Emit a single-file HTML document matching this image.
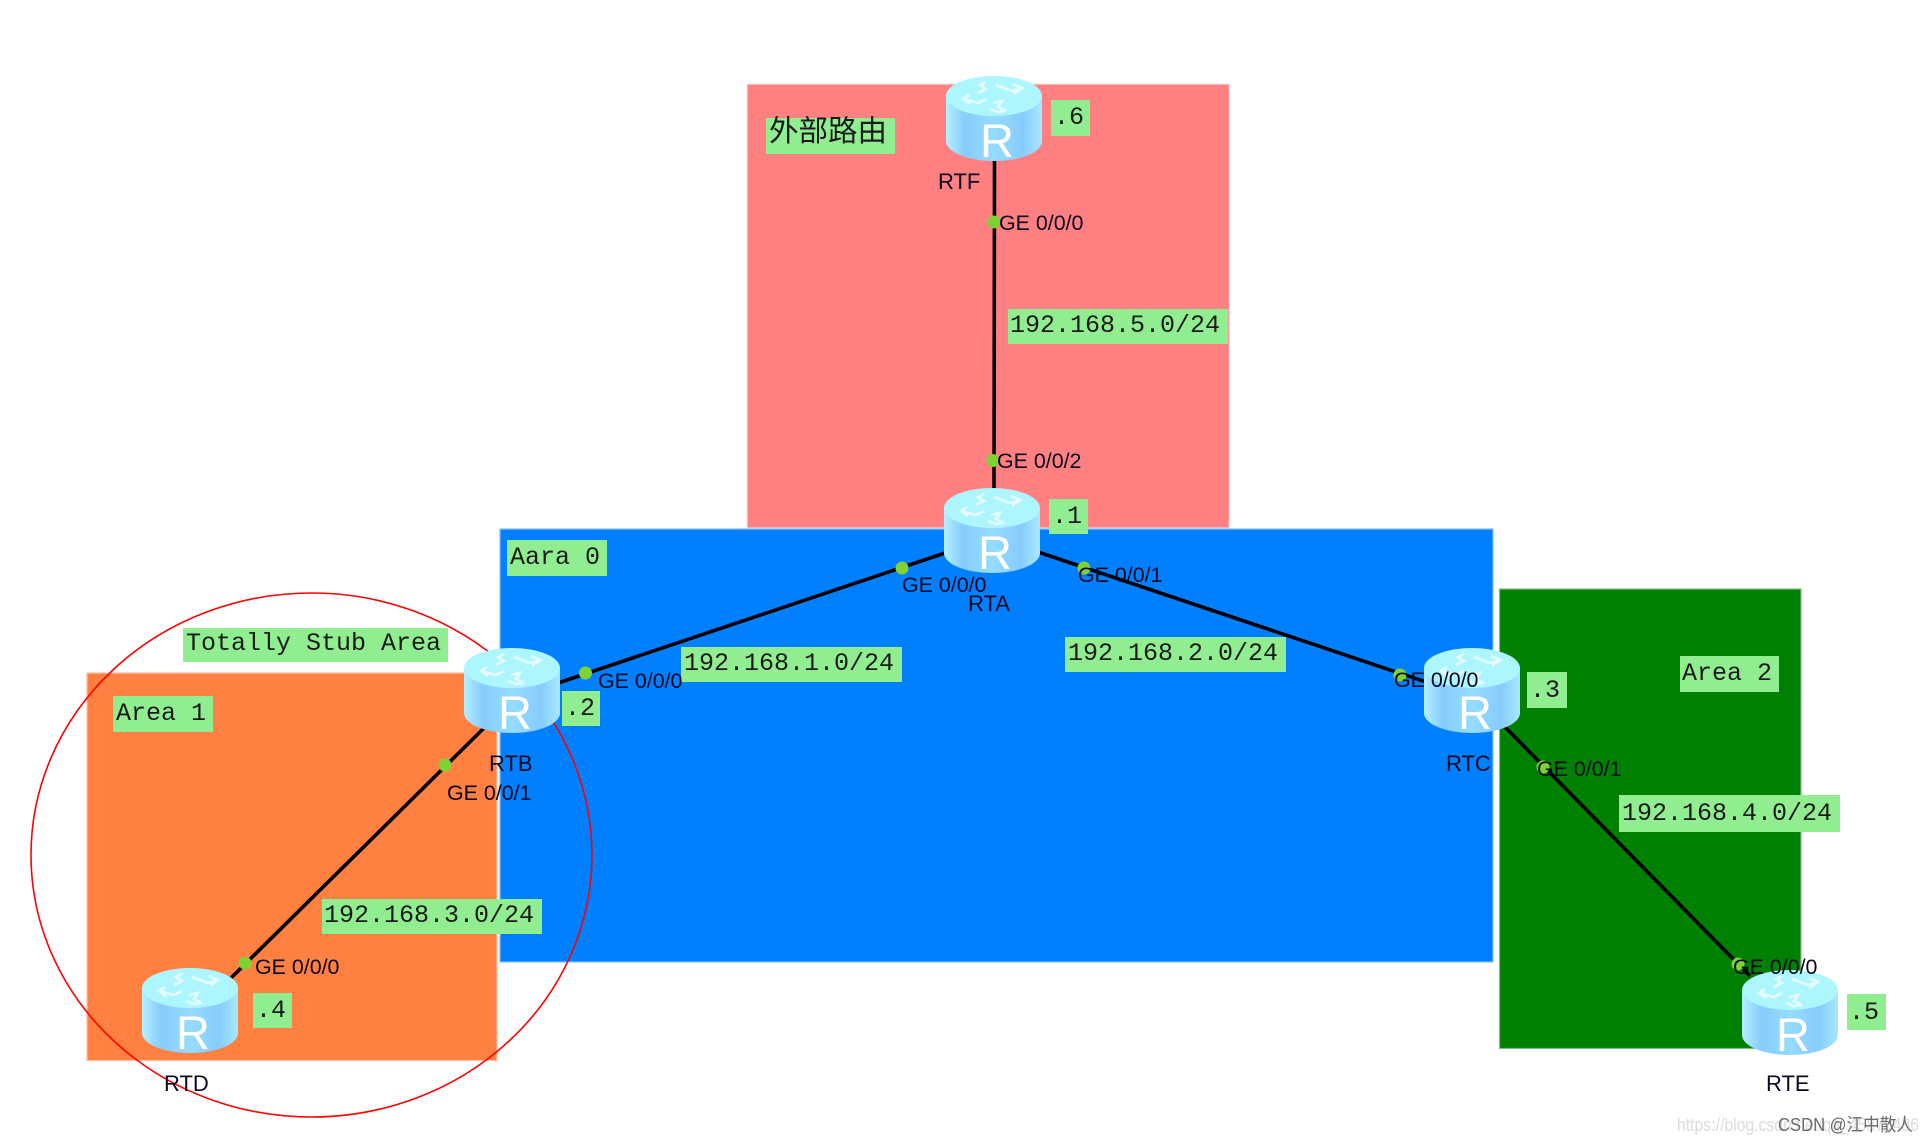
<!DOCTYPE html>
<html>
<head>
<meta charset="utf-8">
<style>
html,body{margin:0;padding:0;background:#fff;width:1929px;height:1143px;overflow:hidden}
svg{display:block}
.m{font:25px "Liberation Mono","Noto Sans CJK SC",monospace;fill:#1a1a1a}
.s{font:21.4px "Liberation Sans",sans-serif;fill:#080820}
.n{font:22px "Liberation Sans",sans-serif;fill:#080820}
.r{font:47px "Liberation Sans",sans-serif;fill:#fff;text-anchor:middle}
.b{fill:#90EE90}
.d{fill:#7FD234}
.l{stroke:#000;stroke-width:3.6;fill:none}
</style>
</head>
<body>
<svg width="1929" height="1143" viewBox="0 0 1929 1143" xmlns="http://www.w3.org/2000/svg">
<defs>
<linearGradient id="g" x1="0" x2="1" y1="0" y2="0">
<stop offset="0" stop-color="#b4f0ff"/><stop offset=".2" stop-color="#86ccfd"/><stop offset=".5" stop-color="#96dcff"/><stop offset=".8" stop-color="#86ccfd"/><stop offset="1" stop-color="#a8e8ff"/>
</linearGradient>
<symbol id="router" viewBox="0 0 96 85" width="96" height="85" overflow="visible">
<path d="M0 20V65A48 20 0 0 0 96 65V20Z" fill="url(#g)"/>
<ellipse cx="48" cy="20" rx="48" ry="20" fill="#aef6ff"/>
<g stroke="#e8fdff" stroke-width="2.6" fill="none" opacity=".95">
<path d="M40 6L34 9L40 13L32 17"/>
<path d="M17 23L32 27L40 23"/>
<path d="M23 19L17 23L24 28"/>
<path d="M50 9L66 15L76 12"/>
<path d="M67 8L76 12L68 18"/>
<path d="M47 27L56 25L52 31L60 35"/>
<path d="M44 33L52 36L60 35"/>
</g>
</symbol>
</defs>

<!-- zones -->
<rect x="747.5" y="84.5" width="481.5" height="443" fill="#ff8080" stroke="#ffb3b3" stroke-width="1.2"/>
<rect x="500" y="529" width="993" height="433" fill="#0080ff" stroke="#80bfff" stroke-width="1.2"/>
<rect x="87" y="673" width="410" height="387.5" fill="#ff8040" stroke="#ffbfa0" stroke-width="1.2"/>
<rect x="1499.5" y="589" width="301.5" height="459.5" fill="#008000" stroke="#80c080" stroke-width="1.2"/>

<!-- circle -->
<ellipse cx="311.5" cy="855" rx="280.5" ry="262" fill="none" stroke="#ff0000" stroke-width="1.6"/>

<!-- links -->
<line class="l" x1="994.5" y1="158" x2="994" y2="492"/>
<line class="l" x1="558" y1="683" x2="945" y2="553"/>
<line class="l" x1="1038" y1="552" x2="1426" y2="682"/>
<line class="l" x1="484" y1="728" x2="230" y2="979"/>
<line class="l" x1="1504" y1="726" x2="1750" y2="976"/>

<!-- port dots -->
<circle class="d" cx="994" cy="222" r="6.5"/>
<circle class="d" cx="993" cy="460.5" r="6.5"/>
<circle class="d" cx="902" cy="568" r="6.5"/>
<circle class="d" cx="1084" cy="568" r="6.5"/>
<circle class="d" cx="585.5" cy="673" r="6.5"/>
<circle class="d" cx="445" cy="765" r="6.5"/>
<circle class="d" cx="245" cy="963" r="6.5"/>
<circle class="d" cx="1400" cy="675" r="6.5"/>
<circle class="d" cx="1543" cy="767" r="6.5"/>
<circle class="d" cx="1738" cy="964" r="6.5"/>

<!-- routers -->
<use href="#router" x="946" y="76"/><text class="r" x="997" y="157">R</text>
<use href="#router" x="944" y="488"/><text class="r" x="995" y="569">R</text>
<use href="#router" x="464" y="648"/><text class="r" x="515" y="729">R</text>
<use href="#router" x="1424" y="648"/><text class="r" x="1475" y="729">R</text>
<use href="#router" x="142" y="968"/><text class="r" x="193" y="1049">R</text>
<use href="#router" x="1742" y="970"/><text class="r" x="1793" y="1051">R</text>

<!-- address labels -->
<rect class="b" x="766" y="118" width="129" height="36"/><text class="m" x="769" y="141" style="font-size:29.5px">外部路由</text>
<rect class="b" x="1051" y="100" width="39" height="36"/><text class="m" x="1054" y="124">.6</text>
<rect class="b" x="1008" y="309" width="220" height="35"/><text class="m" x="1010" y="332">192.168.5.0/24</text>
<rect class="b" x="1049" y="499" width="39" height="35"/><text class="m" x="1052" y="523">.1</text>
<rect class="b" x="507" y="540" width="100" height="36"/><text class="m" x="510" y="564">Aara 0</text>
<rect class="b" x="183" y="628" width="265" height="34"/><text class="m" x="186" y="650">Totally Stub Area</text>
<rect class="b" x="1065" y="637" width="221" height="35"/><text class="m" x="1068" y="660">192.168.2.0/24</text>
<rect class="b" x="681" y="647" width="221" height="35"/><text class="m" x="684" y="670">192.168.1.0/24</text>
<rect class="b" x="562" y="691" width="38" height="35"/><text class="m" x="565" y="715">.2</text>
<rect class="b" x="113" y="696" width="100" height="36"/><text class="m" x="116" y="720">Area 1</text>
<rect class="b" x="1680" y="656" width="99" height="36"/><text class="m" x="1682" y="680">Area 2</text>
<rect class="b" x="1527" y="672" width="40" height="36"/><text class="m" x="1530" y="697">.3</text>
<rect class="b" x="1619" y="795" width="221" height="37"/><text class="m" x="1622" y="820">192.168.4.0/24</text>
<rect class="b" x="322" y="899" width="220" height="35"/><text class="m" x="324" y="922">192.168.3.0/24</text>
<rect class="b" x="253" y="993" width="39" height="35"/><text class="m" x="256" y="1017">.4</text>
<rect class="b" x="1847" y="994" width="39" height="36"/><text class="m" x="1849" y="1019">.5</text>

<!-- port labels -->
<text class="s" x="999" y="230">GE 0/0/0</text>
<text class="s" x="997" y="468">GE 0/0/2</text>
<text class="s" x="902" y="592">GE 0/0/0</text>
<text class="s" x="1078" y="582">GE 0/0/1</text>
<text class="s" x="598" y="688">GE 0/0/0</text>
<text class="s" x="447" y="800">GE 0/0/1</text>
<text class="s" x="255" y="974">GE 0/0/0</text>
<text class="s" x="1394" y="687">GE 0/0/0</text>
<text class="s" x="1537" y="776">GE 0/0/1</text>
<text class="s" x="1733" y="974">GE 0/0/0</text>

<!-- router names -->
<text class="n" x="938" y="189">RTF</text>
<text class="n" x="968" y="611">RTA</text>
<text class="n" x="489" y="771">RTB</text>
<text class="n" x="1446" y="771">RTC</text>
<text class="n" x="164" y="1091">RTD</text>
<text class="n" x="1766" y="1091">RTE</text>

<!-- watermark -->
<text x="1677" y="1131" textLength="242" lengthAdjust="spacingAndGlyphs" style="font:18px 'Liberation Sans',sans-serif;fill:#dcdcdc">https://blog.csdn.net/qq_45878486</text>
<text x="1778" y="1131" textLength="135" lengthAdjust="spacingAndGlyphs" style="font:18px 'Liberation Sans','Noto Sans CJK SC',sans-serif;fill:#6a6a6a">CSDN @江中散人</text>
</svg>
</body>
</html>
